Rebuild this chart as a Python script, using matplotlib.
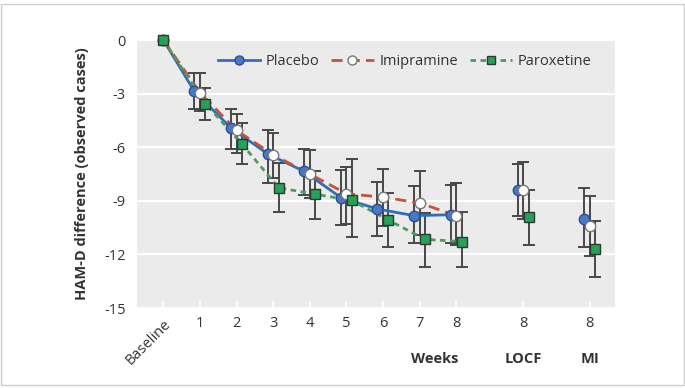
import matplotlib
matplotlib.use("Agg")
import matplotlib.pyplot as plt
from matplotlib.patches import Rectangle
import numpy as np

plt.rcParams['font.family'] = ['Open Sans', 'DejaVu Sans']

# ---- data ----
categories = ["Baseline", "1", "2", "3", "4", "5", "6", "7", "8", "8", "8"]
positions = [0, 1, 2, 3, 4, 5, 6, 7, 8, 9.83, 11.65]
group_labels = ["Weeks", "LOCF", "MI"]

placebo = [0, -2.88, -4.93, -6.37, -7.36, -8.82, -9.46, -9.83, -9.78, -8.42, -10.02]
placebo_hi = [0, -1.87, -3.84, -5.06, -6.08, -7.25, -7.94, -8.18, -8.09, -6.93, -8.31]
placebo_lo = [0, -3.88, -6.12, -8.0, -8.7, -10.34, -10.96, -11.37, -11.37, -9.83, -11.61]

imipramine = [0, -2.95, -5.06, -6.42, -7.5, -8.6, -8.8, -9.12, -9.83, -8.42, -10.43]
imipramine_hi = [0, -1.87, -4.12, -5.22, -6.16, -7.1, -7.21, -7.34, -8.0, -6.83, -8.75]
imipramine_lo = [0, -3.95, -6.3, -7.7, -8.85, -10.3, -10.4, -10.9, -11.5, -10.0, -12.1]

paroxetine = [0, -3.56, -5.83, -8.27, -8.63, -8.98, -10.08, -11.16, -11.28, -9.91, -11.72]
paroxetine_hi = [0, -2.66, -4.62, -6.9, -7.34, -6.65, -8.56, -9.68, -9.64, -8.41, -10.15]
paroxetine_lo = [0, -4.48, -6.93, -9.64, -10.02, -11.03, -11.56, -12.73, -12.73, -11.48, -13.24]

y_ticks = [0, -3, -6, -9, -12, -15]

# ---- figure ----
fig = plt.figure(figsize=(6.85, 3.88), dpi=100)
fig.patch.set_facecolor("white")
fig.add_artist(Rectangle((0.5 / 685, 3.0 / 388), 683.5 / 685, 381.5 / 388,
                         transform=fig.transFigure, fill=False,
                         edgecolor="#cfcfcf", linewidth=1.0))
ax = fig.add_axes([137 / 685, 1 - 308 / 388, (615 - 137) / 685, (308 - 40) / 388])
ax.set_facecolor("#ebebeb")
for s in ax.spines.values():
    s.set_visible(False)

ax.set_xlim(-0.72, 12.34)
ax.set_ylim(-15, 0)
ax.set_yticks(y_ticks)
ax.set_yticklabels([str(v) for v in y_ticks])
ax.yaxis.grid(True, color="white", linewidth=1.3)
ax.set_axisbelow(True)
ax.tick_params(axis="y", length=0, pad=8, labelsize=10.5, labelcolor="#333333")
ax.set_xticks(positions)
ax.set_xticklabels(categories)
ax.tick_params(axis="x", direction="in", length=5, width=1.3, color="white",
               labelsize=10.5, labelcolor="#333333", pad=6)
lbls = ax.get_xticklabels()
lbls[0].set_rotation(45)
lbls[0].set_ha("right")
lbls[0].set_va("top")
lbls[0].set_rotation_mode("anchor")

ax.set_ylabel("HAM-D difference (observed cases)", fontsize=10.5,
              fontweight="bold", color="#333333", labelpad=11)

pos = np.array(positions, dtype=float)
n_line = 9  # baseline through week 8 connected
offsets = np.where(np.arange(len(pos)) == 0, 0.0, 1.0)

series = [
    ("Placebo", placebo, placebo_lo, placebo_hi, -0.15, "#2f6fba", "-", "o", "#4a78c8", "#2b4f8a", 7.5),
    ("Imipramine", imipramine, imipramine_lo, imipramine_hi, 0.0, "#c5533a", (0, (4, 2.2)), "o", "white", "#777777", 7.5),
    ("Paroxetine", paroxetine, paroxetine_lo, paroxetine_hi, 0.15, "#4f9a62", (0, (2, 1.6)), "s", "#27a05a", "#2d3a30", 7.5),
]

handles = []
zbase = {"Placebo": 3, "Imipramine": 4, "Paroxetine": 5}
for name, vals, lo, hi, off, lc, ls, mk, mfc, mec, ms in series:
    vals = np.array(vals)
    lo = np.array(lo)
    hi = np.array(hi)
    x = pos + off * offsets
    yerr = np.vstack([vals - lo, hi - vals])
    ax.errorbar(x[1:], vals[1:], yerr=yerr[:, 1:], fmt="none", ecolor="#474747",
                elinewidth=1.4, capsize=4.5, capthick=1.4, zorder=2)
    ax.plot(x[:n_line], vals[:n_line], color=lc, linestyle=ls, linewidth=2.0,
            zorder=zbase[name])
    ax.plot(x, vals, linestyle="none", marker=mk, markersize=ms,
            markerfacecolor=mfc, markeredgecolor=mec, markeredgewidth=1.0,
            zorder=zbase[name] + 3, clip_on=False)
    h, = ax.plot([], [], color=lc, linestyle=ls, linewidth=2.0, marker=mk,
                 markersize=6.5 if mk == "o" else 6, markerfacecolor=mfc,
                 markeredgecolor=mec, label=name)
    handles.append(h)

leg = ax.legend(handles=handles, loc="upper center", bbox_to_anchor=(0.56, 0.995),
                ncol=3, frameon=False, fontsize=10.5, handlelength=2.9,
                columnspacing=0.8, handletextpad=0.4, labelcolor="#333333")

# group labels
for lab, xpos, ha in [("Weeks", 7.4, "center"), ("LOCF", positions[9], "center"),
                      ("MI", positions[10], "center")]:
    ax.annotate(lab, xy=(xpos, 0), xycoords=("data", "axes fraction"),
                xytext=(0, -37), textcoords="offset points", ha=ha, va="center",
                fontsize=10.5, fontweight="bold", color="#333333")

fig.savefig("out.png", dpi=100, facecolor="white")
